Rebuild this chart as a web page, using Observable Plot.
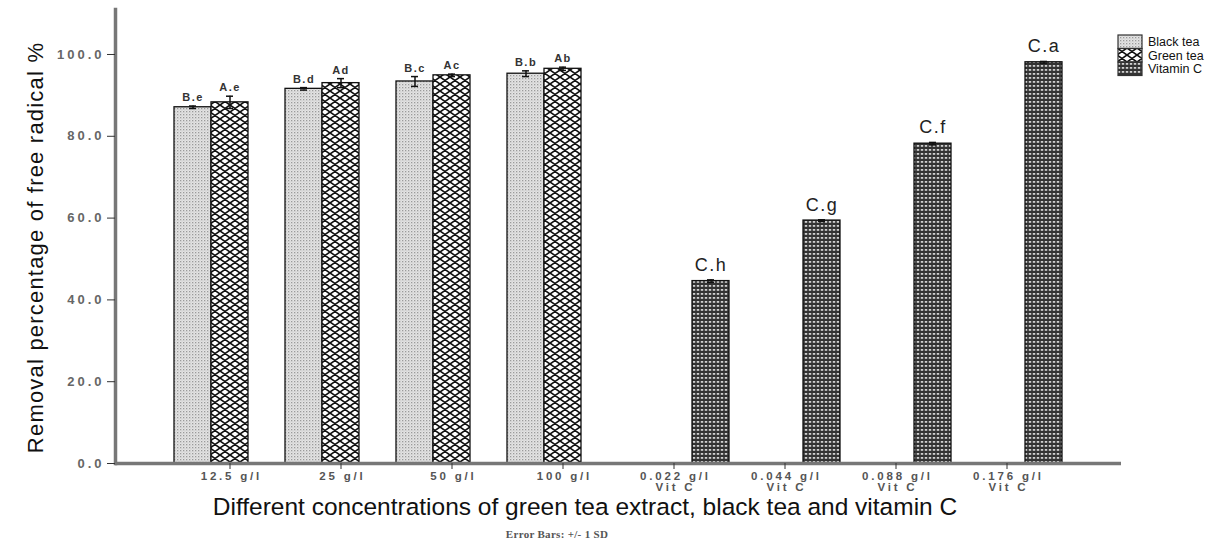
<!DOCTYPE html>
<html>
<head>
<meta charset="utf-8">
<script src="https://cdn.jsdelivr.net/npm/d3@7"></script>
<script src="https://cdn.jsdelivr.net/npm/@observablehq/plot@0.6"></script>
<style>
  html, body { margin: 0; padding: 0; background: #fff; }
  #wrap { position: relative; width: 1216px; height: 549px; overflow: hidden; font-family: "Liberation Sans", Arial, sans-serif; }
  #chart { position: absolute; left: 0; top: 0; }
  #xtitle { position: absolute; left: 0; width: 1170px; top: 495px; text-align: center; font-size: 24.5px; line-height: 23px; color: #111; white-space: nowrap; }
  #caption { position: absolute; left: 0; width: 1114px; top: 528px; text-align: center; font-family: "Liberation Serif", "DejaVu Serif", serif; font-size: 11px; font-weight: bold; color: #555; letter-spacing: 0.3px; }
  #legend { position: absolute; left: 1117px; top: 34px; }
</style>
</head>
<body>
<svg width="0" height="0" style="position:absolute">
  <defs>
    <pattern id="pBlack" width="3" height="3" patternUnits="userSpaceOnUse">
      <rect width="3" height="3" fill="#e4e4e4"/>
      <rect x="0" y="0" width="1.3" height="1.3" fill="#9a9a9a"/>
      <rect x="1.5" y="1.5" width="1" height="1" fill="#bdbdbd"/>
    </pattern>
    <pattern id="pGreen" width="10" height="7" patternUnits="userSpaceOnUse">
      <rect width="10" height="7" fill="#ffffff"/>
      <path d="M0,0 L10,7 M10,0 L0,7 M-5,3.5 L0,7 M5,-3.5 L10,0 M15,3.5 L10,7" stroke="#111" stroke-width="1.6" fill="none"/>
    </pattern>
    <pattern id="pVit" width="4" height="4" patternUnits="userSpaceOnUse">
      <rect width="4" height="4" fill="#333"/>
      <rect x="0.8" y="1" width="2.4" height="1.8" fill="#d0d0d0"/>
    </pattern>
  </defs>
</svg>
<div id="wrap">
  <div id="chart"></div>
  <div id="xtitle">Different concentrations of green tea extract, black tea and vitamin C</div>
  <div id="caption">Error Bars: +/- 1 SD</div>
  <div id="legend"></div>
</div>
<script>
// ---- data ----
const categories = ["12.5 g/l", "25 g/l", "50 g/l", "100 g/l", "0.022 g/l\nVit C", "0.044 g/l\nVit C", "0.088 g/l\nVit C", "0.176 g/l\nVit C"];
const series = ["Black tea", "Green tea", "Vitamin C"];

const blackTeaCategories = ["12.5 g/l", "25 g/l", "50 g/l", "100 g/l"];
const blackTeaValues = [87.1, 91.6, 93.4, 95.3];
const blackTeaSD = [0.3, 0.3, 1.2, 0.7];
const blackTeaLetters = ["B.e", "B.d", "B.c", "B.b"];

const greenTeaCategories = ["12.5 g/l", "25 g/l", "50 g/l", "100 g/l"];
const greenTeaValues = [88.3, 93.0, 94.9, 96.5];
const greenTeaSD = [1.5, 1.1, 0.3, 0.4];
const greenTeaLetters = ["A.e", "Ad", "Ac", "Ab"];

const vitCCategories = ["0.022 g/l\nVit C", "0.044 g/l\nVit C", "0.088 g/l\nVit C", "0.176 g/l\nVit C"];
const vitCValues = [44.6, 59.4, 78.2, 98.1];
const vitCSD = [0.3, 0.2, 0.3, 0.2];
const vitCLetters = ["C.h", "C.g", "C.f", "C.a"];

const yTicks = [0, 20, 40, 60, 80, 100];

// ---- table built from the arrays ----
const key = (c, s) => c + "|" + s;
const rows = [];
function addSeries(s, cats, vals, sds, letters) {
  cats.forEach((c, i) => rows.push({key: key(c, s), category: c, series: s, value: vals[i], sd: sds[i], letter: letters[i]}));
}
addSeries("Black tea", blackTeaCategories, blackTeaValues, blackTeaSD, blackTeaLetters);
addSeries("Green tea", greenTeaCategories, greenTeaValues, greenTeaSD, greenTeaLetters);
addSeries("Vitamin C", vitCCategories, vitCValues, vitCSD, vitCLetters);

const slotDomain = categories.flatMap(c => series.map(s => key(c, s)));
const fills = ["url(#pBlack)", "url(#pGreen)", "url(#pVit)"];
const teaRows = rows.filter(d => d.series !== "Vitamin C");
const vitRows = rows.filter(d => d.series === "Vitamin C");

const chart = Plot.plot({
  width: 1216,
  height: 496,
  marginLeft: 115,
  marginRight: 95,
  marginTop: 9,
  marginBottom: 33,
  style: {fontFamily: "Liberation Sans, Arial, sans-serif", background: "white"},
  x: {type: "band", domain: slotDomain, padding: 0, insetLeft: 51, insetRight: 51},
  y: {domain: [0, 111]},
  color: {type: "ordinal", domain: series, range: fills},
  marks: [
    Plot.barY(rows, {x: "key", y: "value", fill: "series", stroke: "#111", strokeWidth: 1.3}),
    Plot.ruleX(rows, {x: "key", y1: d => d.value - d.sd, y2: d => d.value + d.sd, stroke: "#111", strokeWidth: 1.5}),
    Plot.tickY(rows, {x: "key", y: d => d.value + d.sd, stroke: "#111", strokeWidth: 1.5, insetLeft: 15, insetRight: 15}),
    Plot.tickY(rows, {x: "key", y: d => d.value - d.sd, stroke: "#111", strokeWidth: 1.5, insetLeft: 15, insetRight: 15}),
    Plot.text(teaRows, {x: "key", y: d => d.value + d.sd, text: "letter", lineAnchor: "bottom", dy: -5, fontSize: 11, fontWeight: "bold", fill: "#333"}),
    Plot.text(vitRows, {x: "key", y: d => d.value + d.sd, text: "letter", lineAnchor: "bottom", dy: -9, fontSize: 18, fill: "#222"}),
    Plot.ruleY([0], {stroke: "#777", strokeWidth: 3.5}),
    Plot.frame({anchor: "left", stroke: "#777", strokeWidth: 3.5}),
    Plot.axisY({ticks: yTicks, tickFormat: d => d.toFixed(1), tickSize: 8, tickPadding: 3, fontSize: 13, fontWeight: "bold", fill: "#666", stroke: "#333",
      label: "Removal percentage of free radical %", labelArrow: "none", labelAnchor: "center", labelOffset: 88}),
    Plot.axisX({ticks: categories.map(c => key(c, "Green tea")), tickFormat: k => k.split("|")[0], tickSize: 6, tickPadding: 3, fontSize: 11.5, fontWeight: "bold", fill: "#555", stroke: "#333", lineHeight: 0.95, label: null})
  ]
});
document.getElementById("chart").appendChild(chart);

const svg = d3.select(chart);
// wide, letter-spaced tick labels like the reference
svg.selectAll('g[aria-label="x-axis tick label"]').attr("letter-spacing", 2.8)
  .attr("transform", function() { return (this.getAttribute("transform") || "") + " translate(1.4,0)"; });
svg.selectAll('g[aria-label="y-axis tick label"]').attr("letter-spacing", 3);
svg.selectAll('g[aria-label="text"]').attr("letter-spacing", 1.5);
// restyle axis label (larger, darker, centred like the reference)
svg.selectAll('g[aria-label="y-axis label"] text')
  .attr("font-size", 22).attr("font-weight", "normal").attr("fill", "#111").attr("letter-spacing", 1.2)
  .attr("dx", -11)
  .text(function() { return this.textContent.replace(/\s*[↑→]\s*$/, ""); });

// ---- legend ----
const leg = d3.select("#legend").append("svg").attr("width", 95).attr("height", 45);
series.forEach((s, i) => {
  leg.append("rect").attr("x", 1).attr("y", 1 + i * 13.5).attr("width", 24).attr("height", 13.5)
    .attr("fill", fills[i]).attr("stroke", "#333").attr("stroke-width", 1.2);
  leg.append("text").attr("x", 31).attr("y", 12 + i * 13.5).text(s)
    .attr("font-family", "Liberation Sans, Arial, sans-serif").attr("font-size", 12.5).attr("fill", "#111");
});
</script>
</body>
</html>
